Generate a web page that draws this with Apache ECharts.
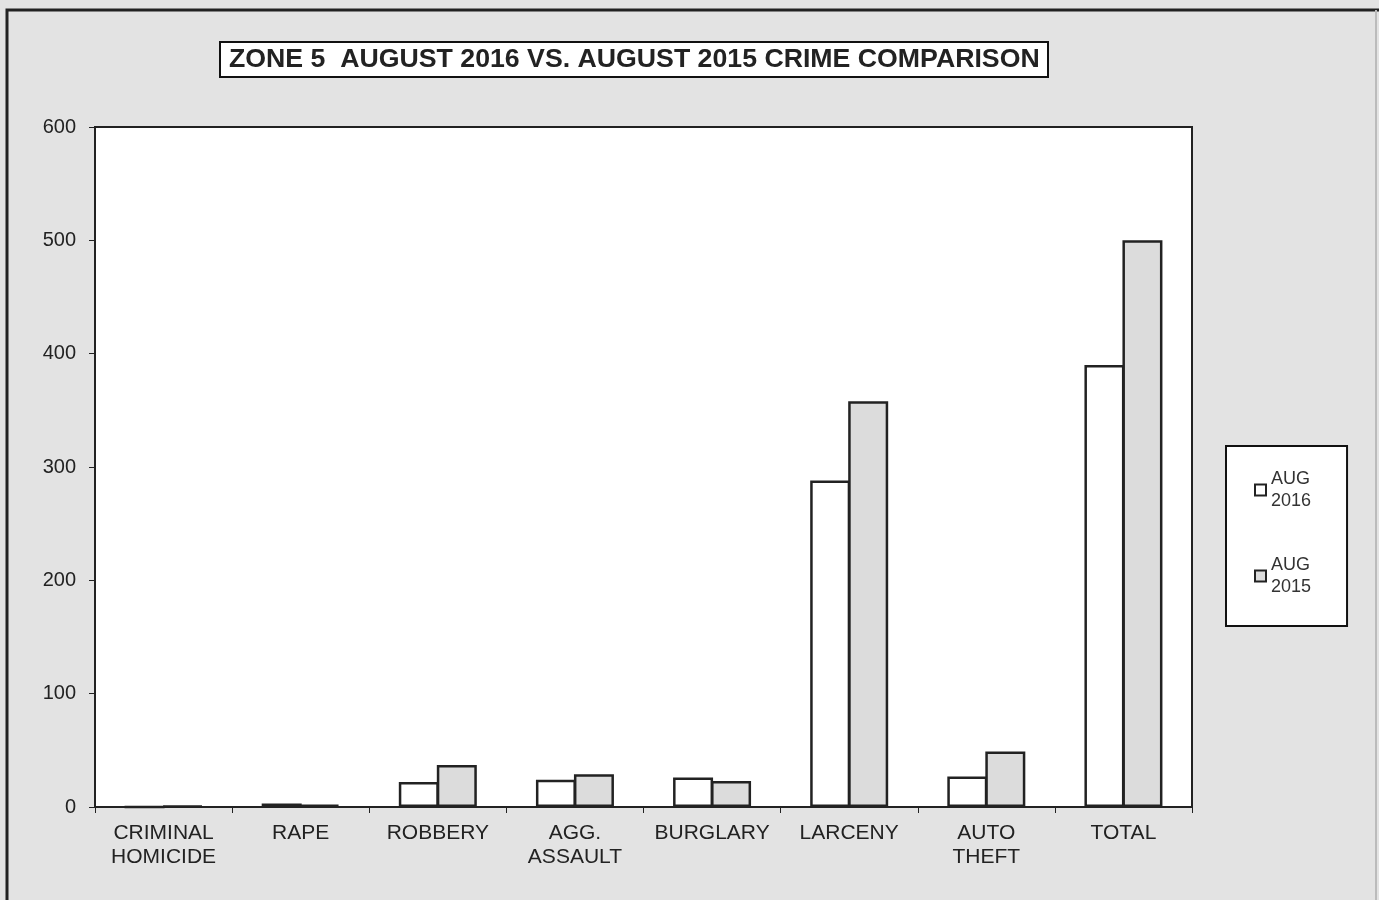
<!DOCTYPE html>
<html>
<head>
<meta charset="utf-8">
<script src="https://cdn.jsdelivr.net/npm/echarts@6/dist/echarts.min.js"></script>
<style>
html,body{margin:0;padding:0;background:#e3e3e3;}
#c{width:1379px;height:900px;}
</style>
</head>
<body>
<div id="c"></div>
<script>
const categories = ['CRIMINAL\nHOMICIDE', 'RAPE', 'ROBBERY', 'AGG.\nASSAULT', 'BURGLARY', 'LARCENY', 'AUTO\nTHEFT', 'TOTAL'];
const aug2016 = [0, 3, 22, 24, 26, 288, 27, 390];
const aug2015 = [1, 2, 37, 29, 23, 358, 49, 500];
const seriesNames = ['AUG 2016', 'AUG 2015'];
const yTicks = {min: 0, max: 600, interval: 100};

const chart = echarts.init(document.getElementById('c'));
const font = 'Liberation Sans, Arial, sans-serif';
chart.setOption({
  backgroundColor: '#e3e3e3',
  animation: false,
  title: {
    text: 'ZONE 5  AUGUST 2016 VS. AUGUST 2015 CRIME COMPARISON',
    left: 220, top: 42,
    padding: [4, 9, 4, 9],
    borderColor: '#111', borderWidth: 2,
    backgroundColor: '#fff',
    textStyle: {fontFamily: font, fontSize: 26.7, fontWeight: 'bold', color: '#222'}
  },
  graphic: [{
    type: 'polyline', z: -10,
    shape: {points: [[7, 900], [7, 10], [1379, 10]]},
    style: {fill: 'none', stroke: '#222', lineWidth: 3}
  }, {
    type: 'line', z: -10,
    shape: {x1: 1376, y1: 10, x2: 1376, y2: 900},
    style: {stroke: '#bbb', lineWidth: 2}
  }],
  legend: {
    orient: 'vertical',
    left: 1226, top: 446,
    padding: [22, 36, 28, 28],
    itemGap: 42,
    borderColor: '#111', borderWidth: 2,
    backgroundColor: '#fff',
    itemWidth: 11, itemHeight: 11,
    icon: 'rect',
    formatter: n => n.replace(' ', '\n'),
    textStyle: {fontFamily: font, fontSize: 18, color: '#333', lineHeight: 22, align: 'center'},
    data: seriesNames.map((n, i) => ({name: n, itemStyle: {color: i ? '#dcdcdc' : '#fff', borderColor: '#222', borderWidth: 2}}))
  },
  grid: {
    left: 95, right: 187, top: 127, bottom: 93,
    show: true, backgroundColor: '#fff', borderColor: '#222', borderWidth: 2
  },
  xAxis: {
    type: 'category',
    data: categories,
    axisLine: {lineStyle: {color: '#222', width: 2}},
    axisTick: {show: true, length: 6, lineStyle: {color: '#222'}},
    axisLabel: {fontFamily: font, fontSize: 21, color: '#222', margin: 14, lineHeight: 24, interval: 0}
  },
  yAxis: {
    type: 'value',
    min: yTicks.min, max: yTicks.max, interval: yTicks.interval,
    axisLine: {show: true, lineStyle: {color: '#222', width: 2}},
    axisTick: {show: true, length: 6, lineStyle: {color: '#222'}},
    splitLine: {show: false},
    axisLabel: {fontFamily: font, fontSize: 20, color: '#222', margin: 19}
  },
  series: [{
    name: seriesNames[0], type: 'bar', data: aug2016,
    barWidth: 40, barGap: '-5%',
    itemStyle: {color: '#fff', borderColor: '#222', borderWidth: 2.5}
  }, {
    name: seriesNames[1], type: 'bar', data: aug2015,
    barWidth: 40,
    itemStyle: {color: '#dcdcdc', borderColor: '#222', borderWidth: 2.5}
  }]
});
</script>
</body>
</html>
